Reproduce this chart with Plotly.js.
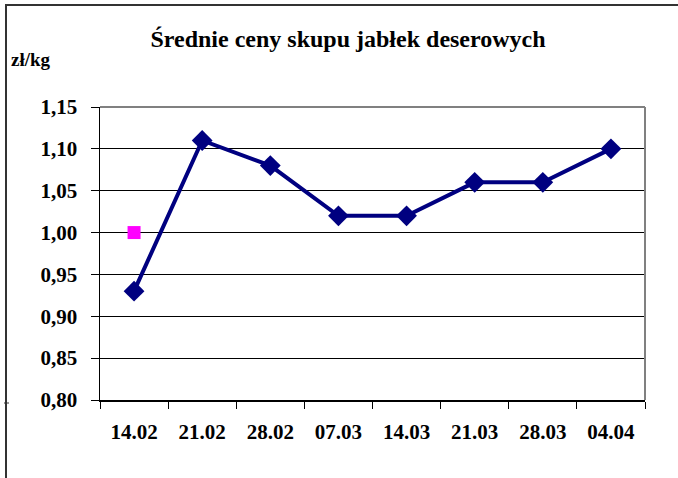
<!DOCTYPE html>
<html>
<head>
<meta charset="utf-8">
<script src="https://cdn.plot.ly/plotly-3.0.1.min.js"></script>
<style>html,body{margin:0;padding:0;background:#fff;}#chart{width:678px;height:478px;}</style>
</head>
<body>
<div id="chart"></div>
<script>
const categories = ["14.02","21.02","28.02","07.03","14.03","21.03","28.03","04.04"];
const prices = [0.93, 1.11, 1.08, 1.02, 1.02, 1.06, 1.06, 1.10];
const extraCategory = ["14.02"];
const extraValue = [1.00];
const yTicks = [0.80, 0.85, 0.90, 0.95, 1.00, 1.05, 1.10, 1.15];

const L = 100, R = 645, T = 107, B = 400;
const W = 678, H = 478;
const px = x => (x - L) / (R - L);
const py = y => (B - y) / (B - T);

const FAM = "Liberation Serif";

const traces = [
  {
    x: categories, y: prices, type: "scatter", mode: "lines+markers",
    line: {color: "#000080", width: 4},
    marker: {symbol: "diamond", size: 16, color: "#000080"},
    cliponaxis: false, hoverinfo: "none"
  },
  {
    x: extraCategory, y: extraValue, type: "scatter", mode: "markers",
    marker: {symbol: "square", size: 13, color: "#FF00FF"},
    cliponaxis: false, hoverinfo: "none"
  }
];

const layout = {
  width: W, height: H,
  margin: {l: L, r: W - R, t: T, b: H - B, pad: 0},
  paper_bgcolor: "#fff", plot_bgcolor: "#fff",
  showlegend: false,
  separators: ",.",
  font: {family: FAM, color: "#000"},
  title: {
    text: "<b>Średnie ceny skupu jabłek deserowych</b>",
    font: {family: FAM, color: "#000", size: 24},
    x: 348 / W, xanchor: "center", y: 1 - 39 / H, yanchor: "middle"
  },
  xaxis: {
    type: "category", range: [-0.5, 7.5],
    tickson: "boundaries", ticks: "outside", ticklen: 7, tickcolor: "#000", tickwidth: 1,
    showgrid: false, zeroline: false,
    showline: true, linecolor: "#000", linewidth: 1.5,
    tickfont: {family: FAM, color: "#000", size: 21, weight: "bold"},
    ticklabelstandoff: 12
  },
  yaxis: {
    range: [0.80, 1.15], tickvals: yTicks, tickformat: ".2f",
    ticks: "outside", ticklen: 8, tickcolor: "#000",
    showgrid: true, gridcolor: "#000", gridwidth: 1,
    zeroline: false, showline: true, linecolor: "#000", linewidth: 1.5,
    tickfont: {family: FAM, color: "#000", size: 21, weight: "bold"},
    ticklabelstandoff: 9
  },
  annotations: [
    {text: "<b>zł/kg</b>", xref: "paper", yref: "paper", x: px(9), y: py(59),
     xanchor: "left", yanchor: "middle", showarrow: false,
     font: {family: FAM, color: "#000", size: 19}}
  ],
  shapes: [
    {type: "line", xref: "paper", yref: "paper", x0: 0, x1: 1, y0: 1, y1: 1, line: {color: "#808080", width: 2}},
    {type: "line", xref: "paper", yref: "paper", x0: 1, x1: 1, y0: 0, y1: 1, line: {color: "#808080", width: 2}},
    {type: "line", xref: "paper", yref: "paper", x0: px(5), x1: px(W), y0: py(5), y1: py(5), line: {color: "#333", width: 2}},
    {type: "line", xref: "paper", yref: "paper", x0: px(6), x1: px(6), y0: py(5), y1: py(H), line: {color: "#333", width: 2}},
    {type: "line", xref: "paper", yref: "paper", x0: px(4), x1: px(9), y0: py(403), y1: py(403), line: {color: "#333", width: 1}}
  ]
};

Plotly.newPlot("chart", traces, layout, {displayModeBar: false, staticPlot: true});
</script>
</body>
</html>
